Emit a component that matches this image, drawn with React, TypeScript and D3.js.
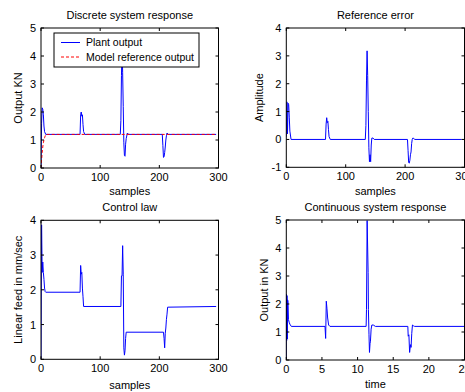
import React from 'react';
import * as d3 from 'd3';

// discrete plant output vs model reference (samples)
const plantSamples = [0, 1, 2, 3, 4, 5, 6, 8, 66, 67, 68, 69, 70, 71, 72, 74, 134, 135, 136, 137, 138, 139, 140, 141, 142, 143, 144, 146, 148, 205, 206, 207, 208, 209, 210, 211, 212, 213, 215, 296];
const plantOutput = [0, 1.6, 2.15, 2.1, 1.9, 1.5, 1.3, 1.2, 1.2, 1.9, 2.0, 1.85, 1.9, 1.55, 1.3, 1.2, 1.2, 1.7, 3.3, 4.38, 3.4, 2.2, 0.9, 0.45, 0.42, 0.85, 1.05, 1.25, 1.2, 1.2, 0.8, 0.38, 0.4, 0.55, 0.75, 1.0, 1.15, 1.25, 1.2, 1.2];
const modelSamples = [0, 1, 2, 3, 4, 5, 6, 7, 8, 296];
const modelOutput = [0, 0.3, 0.55, 0.75, 0.9, 1.0, 1.08, 1.14, 1.2, 1.2];

// reference error
const errorSamples = [0, 1, 2, 3, 4, 5, 6, 8, 66, 67, 68, 69, 70, 71, 72, 74, 133, 134, 135, 136, 137, 138, 139, 140, 141, 142, 143, 144, 146, 148, 204, 205, 206, 207, 208, 209, 210, 211, 212, 213, 214, 216, 295];
const errorValues = [0.1, 1.35, 0.2, 1.3, 1.25, 0.8, 0.3, 0, 0, 0.55, 0.78, 0.6, 0.65, 0.35, 0.1, 0, 0, 0.5, 2.1, 3.18, 2.3, 1.0, -0.3, -0.8, -0.55, -0.8, -0.2, 0.05, 0.05, 0, 0, -0.4, -0.83, -0.85, -0.75, -0.55, -0.45, -0.15, 0, 0.05, 0.05, 0, 0];

// control law
const controlSamples = [0, 1, 2, 3, 4, 5, 6, 7, 8, 66, 67, 68, 69, 70, 71, 72, 135, 136, 137, 138, 139, 140, 141, 142, 143, 144, 207, 208, 209, 210, 211, 212, 213, 214, 296];
const controlValues = [0, 3.87, 2.5, 2.8, 2.5, 2.3, 2.05, 1.95, 1.93, 1.93, 2.7, 2.45, 2.5, 2.05, 1.8, 1.52, 1.52, 2.4, 2.4, 3.27, 2.45, 0.33, 0.12, 0.25, 0.6, 0.78, 0.78, 0.6, 0.33, 0.75, 0.9, 1.15, 1.3, 1.5, 1.52, 1.52];

// continuous response (time)
const contTime = [0, 0.03, 0.06, 0.1, 0.14, 0.18, 0.24, 0.3, 0.4, 0.5, 0.7, 5.43, 5.52, 5.61, 5.7, 5.8, 5.94, 6.12, 11.2, 11.25, 11.34, 11.48, 11.52, 11.6, 11.67, 11.75, 11.8, 11.9, 12.0, 12.2, 12.5, 17.05, 17.1, 17.2, 17.3, 17.4, 17.45, 17.5, 17.6, 17.7, 17.85, 18.0, 25];
const contOutput = [0, 2.35, 0.7, 2.3, 0.75, 2.15, 2.1, 1.45, 1.35, 1.28, 1.2, 1.2, 0.77, 2.1, 1.85, 1.5, 1.25, 1.2, 1.2, 1.8, 4.98, 3.13, 1.8, 0.9, 0.27, 0.6, 0.65, 1.1, 1.25, 1.25, 1.2, 1.2, 0.85, 0.9, 0.27, 0.5, 0.55, 0.45, 0.95, 1.25, 1.22, 1.2, 1.2];

const sampleTicks = [0, 100, 200, 300];
const timeTicks = [0, 5, 10, 15, 20, 25];

const FONT = '"Liberation Sans", Arial, sans-serif';

const Panel = ({ id, box, xDomain, yDomain, xTicks, yTicks, title, titleY, xLabel, xLabelY, yLabel, yLabelX, series, children }) => {
  const x = d3.scaleLinear().domain(xDomain).range([box.left, box.right]);
  const y = d3.scaleLinear().domain(yDomain).range([box.bottom, box.top]);
  const line = d3.line().x(d => x(d[0])).y(d => y(d[1]));
  const tk = 3;
  return (
    <g>
      <clipPath id={id}>
        <rect x={box.left} y={box.top} width={box.right - box.left} height={box.bottom - box.top} />
      </clipPath>
      <rect x={box.left} y={box.top} width={box.right - box.left} height={box.bottom - box.top} fill="#fff" />
      <g clipPath={`url(#${id})`}>
        {series.map((s, i) => (
          <path key={i} d={line(d3.zip(s.xs, s.ys))} fill="none" stroke={s.color} strokeWidth={1}
            strokeDasharray={s.dash || null} />
        ))}
      </g>
      <rect x={box.left} y={box.top} width={box.right - box.left} height={box.bottom - box.top}
        fill="none" stroke="#000" strokeWidth={1} />
      {xTicks.map(t => (
        <g key={'x' + t}>
          <line x1={x(t)} x2={x(t)} y1={box.bottom} y2={box.bottom - tk} stroke="#000" />
          <line x1={x(t)} x2={x(t)} y1={box.top} y2={box.top + tk} stroke="#000" />
          <text x={x(t)} y={box.bottom + 13} textAnchor="middle" fontSize={11}>{t}</text>
        </g>
      ))}
      {yTicks.map(t => (
        <g key={'y' + t}>
          <line x1={box.left} x2={box.left + tk} y1={y(t)} y2={y(t)} stroke="#000" />
          <line x1={box.right} x2={box.right - tk} y1={y(t)} y2={y(t)} stroke="#000" />
          <text x={box.left - 5} y={y(t) + 4} textAnchor="end" fontSize={11}>{t}</text>
        </g>
      ))}
      <text x={(box.left + box.right) / 2} y={titleY} textAnchor="middle" fontSize={11}>{title}</text>
      <text x={(box.left + box.right) / 2} y={xLabelY} textAnchor="middle" fontSize={11}>{xLabel}</text>
      <text transform={`translate(${yLabelX},${(box.top + box.bottom) / 2}) rotate(-90)`} textAnchor="middle" fontSize={11}>{yLabel}</text>
      {children}
    </g>
  );
};

export default function App() {
  return (
    <svg width={465} height={392} style={{ position: 'absolute', left: 0, top: 0, background: '#fff' }} fontFamily={FONT}>
      <rect width={465} height={392} fill="#fff" />
      <Panel id="c1" box={{ left: 41, right: 218.5, top: 28, bottom: 168 }} xDomain={[0, 300]} yDomain={[0, 5]}
        xTicks={sampleTicks} yTicks={[0, 1, 2, 3, 4, 5]} title="Discrete system response" titleY={19}
        xLabel="samples" xLabelY={195} yLabel="Output KN" yLabelX={22}
        series={[
          { xs: plantSamples, ys: plantOutput, color: '#0000ff' },
          { xs: modelSamples, ys: modelOutput, color: '#ff0000', dash: '3,2' },
        ]}>
        <rect x={54} y={33} width={145} height={34} fill="#fff" stroke="#000" />
        <line x1={61} x2={80} y1={42.5} y2={42.5} stroke="#0000ff" />
        <text x={86} y={46} fontSize={10.5}>Plant output</text>
        <line x1={61} x2={80} y1={57} y2={57} stroke="#ff0000" strokeDasharray="3,2" />
        <text x={86} y={60.5} fontSize={10.5}>Model reference output</text>
      </Panel>
      <Panel id="c2" box={{ left: 286.3, right: 464.5, top: 28, bottom: 167.3 }} xDomain={[0, 300]} yDomain={[-1, 4]}
        xTicks={sampleTicks} yTicks={[-1, 0, 1, 2, 3, 4]} title="Reference error" titleY={19}
        xLabel="samples" xLabelY={195} yLabel="Amplitude" yLabelX={263}
        series={[{ xs: errorSamples, ys: errorValues, color: '#0000ff' }]} />
      <Panel id="c3" box={{ left: 41, right: 218.5, top: 220.3, bottom: 359.3 }} xDomain={[0, 300]} yDomain={[0, 4]}
        xTicks={sampleTicks} yTicks={[0, 1, 2, 3, 4]} title="Control law" titleY={210.5}
        xLabel="samples" xLabelY={388.5} yLabel="Linear feed in mm/sec" yLabelX={22}
        series={[{ xs: controlSamples, ys: controlValues, color: '#0000ff' }]} />
      <Panel id="c4" box={{ left: 286.3, right: 464.5, top: 220, bottom: 360 }} xDomain={[0, 25]} yDomain={[0, 5]}
        xTicks={timeTicks} yTicks={[0, 1, 2, 3, 4, 5]} title="Continuous system response" titleY={210.5}
        xLabel="time" xLabelY={388} yLabel="Output in KN" yLabelX={268}
        series={[{ xs: contTime, ys: contOutput, color: '#0000ff' }]} />
    </svg>
  );
}
